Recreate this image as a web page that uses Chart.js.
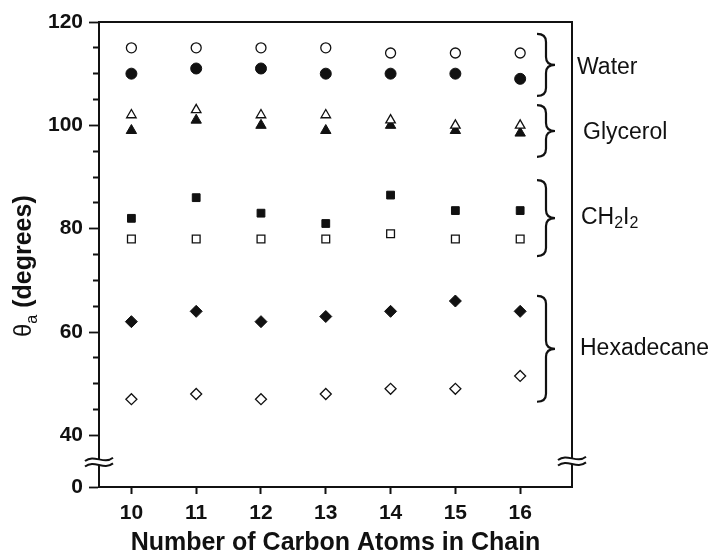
<!DOCTYPE html>
<html>
<head>
<meta charset="utf-8">
<script src="https://cdn.jsdelivr.net/npm/chart.js@4.4.0/dist/chart.umd.min.js"></script>
<style>
  body { margin: 0; background: #fff; }
  canvas { display: block; }
</style>
</head>
<body>
<canvas id="chart" width="709" height="554"></canvas>
<script>
// number of carbon atoms (x) and advancing contact angles (y, degrees)
const carbons = [10, 11, 12, 13, 14, 15, 16];
const waterOpen = [115, 115, 115, 115, 114, 114, 114];
const waterFilled = [110, 111, 111, 110, 110, 110, 109];
const glycerolOpen = [102, 103, 102, 102, 101, 100, 100];
const glycerolFilled = [99, 101, 100, 99, 100, 99, 98.5];
const ch2i2Filled = [82, 86, 83, 81, 86.5, 83.5, 83.5];
const ch2i2Open = [78, 78, 78, 78, 79, 78, 78];
const hexFilled = [62, 64, 62, 63, 64, 66, 64];
const hexOpen = [47, 48, 47, 48, 49, 49, 51.5];

// y axis has a break: the "0" tick sits where 30 would be
const yTickValues = [30, 40, 60, 80, 100, 120];
const yTickText = ['0', '40', '60', '80', '100', '120'];
const yMinorTicks = [45, 50, 55, 65, 70, 75, 85, 90, 95, 105, 110, 115];

const liquids = ['Water', 'Glycerol', 'CH2I2', 'Hexadecane'];
const braceRanges = [[105.7, 117.7], [93.9, 103.9], [74.7, 89.4], [46.5, 67.0]];

const INK = '#111';
const FONT = "'Liberation Sans', Arial, Helvetica, sans-serif";

const pts = ys => carbons.map((x, i) => ({ x: x, y: ys[i] }));

function series(label, ys, shape, filled, r) {
  return {
    label: label,
    data: pts(ys),
    pointStyle: shape,
    pointRadius: r,
    pointHoverRadius: r,
    borderColor: INK,
    backgroundColor: filled ? INK : '#fff',
    pointBorderWidth: filled ? 1 : 1.3,
    showLine: false
  };
}

const datasets = [
  series('Water (open)', waterOpen, 'circle', false, 5),
  series('Water (filled)', waterFilled, 'circle', true, 5.5),
  series('Glycerol (open)', glycerolOpen, 'triangle', false, 5.5),
  series('Glycerol (filled)', glycerolFilled, 'triangle', true, 6),
  series('CH2I2 (filled)', ch2i2Filled, 'rect', true, 5.5),
  series('CH2I2 (open)', ch2i2Open, 'rect', false, 5.5),
  series('Hexadecane (filled)', hexFilled, 'rectRot', true, 6),
  series('Hexadecane (open)', hexOpen, 'rectRot', false, 5.5)
];

function drawBrace(ctx, x0, xs, xt, top, bottom) {
  const mid = (top + bottom) / 2, r = 8;
  ctx.beginPath();
  ctx.moveTo(x0, top);
  ctx.quadraticCurveTo(xs, top, xs, top + r);
  ctx.lineTo(xs, mid - r);
  ctx.quadraticCurveTo(xs, mid, xt, mid);
  ctx.quadraticCurveTo(xs, mid, xs, mid + r);
  ctx.lineTo(xs, bottom - r);
  ctx.quadraticCurveTo(xs, bottom, x0, bottom);
  ctx.stroke();
}

function drawBreak(ctx, cx, cy) {
  const w = 14, gap = 2.8, amp = 2.6;
  ctx.save();
  ctx.fillStyle = '#fff';
  ctx.fillRect(cx - 3, cy - gap, 6, gap * 2);
  ctx.strokeStyle = INK;
  ctx.lineWidth = 2;
  [cy - gap, cy + gap].forEach(y => {
    ctx.beginPath();
    ctx.moveTo(cx - w, y + amp * 0.6);
    ctx.bezierCurveTo(cx - w / 3, y - amp * 2.2, cx + w / 3, y + amp * 2.2, cx + w, y - amp * 0.6);
    ctx.stroke();
  });
  ctx.restore();
}

const decorations = {
  id: 'decorations',
  afterDraw(chart) {
    const { ctx, chartArea: a, scales: { y } } = chart;
    ctx.save();
    ctx.strokeStyle = INK;
    ctx.fillStyle = INK;

    // top and right frame lines
    ctx.lineWidth = 2;
    ctx.beginPath();
    ctx.moveTo(a.left, a.top);
    ctx.lineTo(a.right, a.top);
    ctx.lineTo(a.right, a.bottom);
    ctx.stroke();

    // braces and liquid names
    ctx.lineWidth = 2.2;
    const labelDx = [5, 11, 9, 8];
    braceRanges.forEach((rg, i) => {
      const top = y.getPixelForValue(rg[1]);
      const bottom = y.getPixelForValue(rg[0]);
      drawBrace(ctx, a.right - 35, a.right - 26, a.right - 17, top, bottom);
      const ly = (top + bottom) / 2 + (i === 0 ? 3 : i === 1 ? 2 : 0);
      const lx = a.right + labelDx[i];
      ctx.textBaseline = 'middle';
      ctx.textAlign = 'left';
      if (liquids[i] === 'CH2I2') {
        let x = lx;
        ['CH', '2', 'I', '2'].forEach((part, k) => {
          const sub = k % 2 === 1;
          ctx.font = (sub ? '16px ' : '23px ') + FONT;
          ctx.fillText(part, x, ly + (sub ? 6 : 0));
          x += ctx.measureText(part).width;
        });
      } else {
        ctx.font = '23px ' + FONT;
        ctx.fillText(liquids[i], lx, ly);
      }
    });

    // axis breaks
    const by = y.getPixelForValue(35);
    drawBreak(ctx, a.left, by + 1);
    drawBreak(ctx, a.right, by);

    // y axis title: theta_a (degrees)
    ctx.translate(31, 337);
    ctx.rotate(-Math.PI / 2);
    ctx.textBaseline = 'alphabetic';
    ctx.textAlign = 'left';
    ctx.font = '24px ' + FONT;
    ctx.fillText('\u03b8', 0, 0);
    let x = ctx.measureText('\u03b8').width;
    ctx.font = '16px ' + FONT;
    ctx.fillText('a', x, 6);
    x += ctx.measureText('a').width;
    ctx.font = 'bold 25px ' + FONT;
    ctx.fillText(' (degrees)', x, 0);
    ctx.restore();
  }
};

new Chart(document.getElementById('chart'), {
  type: 'scatter',
  data: { datasets: datasets },
  options: {
    responsive: false,
    animation: false,
    events: [],
    layout: { padding: { top: 22, right: 137, left: 0, bottom: 0 } },
    plugins: { legend: { display: false }, tooltip: { enabled: false } },
    scales: {
      x: {
        type: 'linear',
        min: 9.5,
        max: 16.8,
        afterBuildTicks: s => { s.ticks = carbons.map(v => ({ value: v })); },
        afterFit: s => { s.height = 67; },
        border: { display: true, color: INK, width: 2 },
        grid: { drawOnChartArea: false, tickLength: 7, tickColor: INK, tickWidth: 2 },
        ticks: {
          autoSkip: false,
          padding: 7,
          color: INK,
          font: { family: FONT, size: 21, weight: 'bold' },
          callback: v => String(v)
        },
        title: {
          display: true,
          text: 'Number of Carbon Atoms in Chain',
          color: INK,
          font: { family: FONT, size: 25, weight: 'bold', lineHeight: 0.85 },
          padding: { top: 0, bottom: 0 }
        }
      },
      y: {
        type: 'linear',
        min: 30,
        max: 120,
        afterBuildTicks: s => {
          s.ticks = yTickValues.concat(yMinorTicks).sort((p, q) => p - q).map(v => ({ value: v }));
        },
        afterFit: s => { s.width = 99; },
        border: { display: true, color: INK, width: 2 },
        grid: {
          drawOnChartArea: false,
          tickLength: 10,
          tickColor: INK,
          tickWidth: 1.8,
          tickBorderDash: c => (c.tick && yTickValues.includes(c.tick.value)) ? [] : [0, 4, 6, 0]
        },
        ticks: {
          autoSkip: false,
          padding: 6,
          color: INK,
          font: { family: FONT, size: 21, weight: 'bold' },
          callback: v => {
            const i = yTickValues.indexOf(v);
            return i >= 0 ? yTickText[i] : '';
          }
        }
      }
    }
  },
  plugins: [decorations]
});
</script>
</body>
</html>
